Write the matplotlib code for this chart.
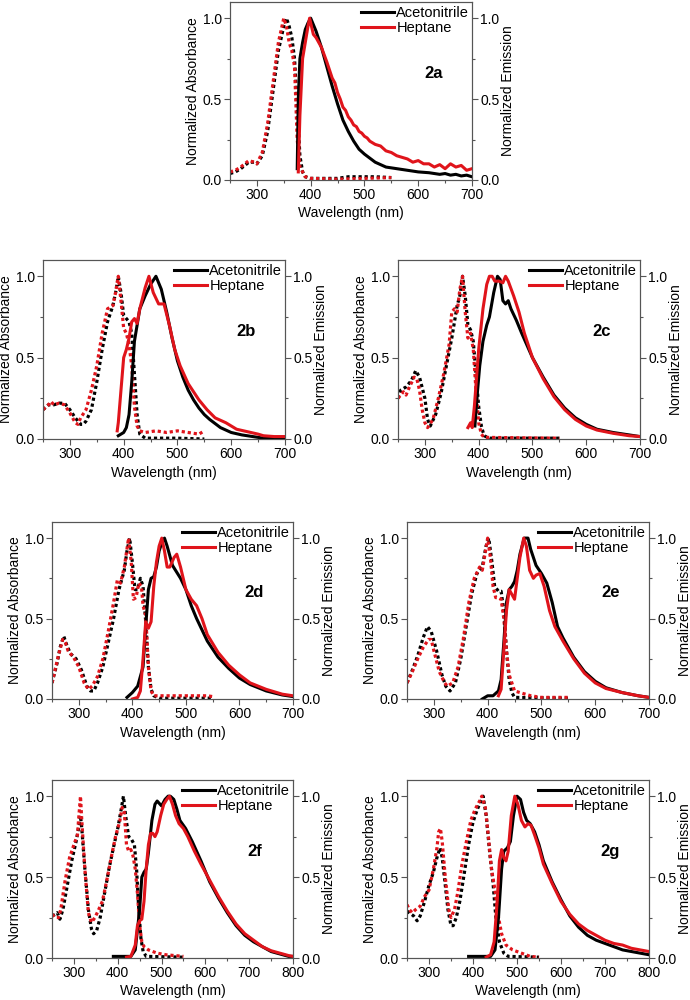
import matplotlib
matplotlib.use("Agg")
import matplotlib.pyplot as plt
from matplotlib.ticker import MultipleLocator

plt.rcParams['font.family'] = ['Liberation Sans', 'DejaVu Sans']

# ---------------- data ----------------
# Panel 2a
a_abs_acn_x = [250, 260, 270, 285, 295, 300, 310, 320, 330, 340, 350, 355, 360, 365, 370, 375, 380, 385, 390, 400, 430, 450, 470, 500, 520, 550]
a_abs_acn_y = [0.04, 0.05, 0.07, 0.11, 0.11, 0.10, 0.15, 0.30, 0.55, 0.80, 0.95, 1.0, 0.95, 0.88, 0.75, 0.45, 0.15, 0.05, 0.02, 0.01, 0.01, 0.01, 0.02, 0.02, 0.02, 0.015]
a_abs_hep_x = [250, 260, 270, 285, 295, 300, 310, 320, 330, 340, 350, 355, 360, 365, 370, 375, 380, 390, 400, 450, 500, 550]
a_abs_hep_y = [0.05, 0.06, 0.08, 0.12, 0.11, 0.10, 0.17, 0.35, 0.60, 0.85, 1.0, 0.95, 0.85, 0.80, 0.70, 0.25, 0.08, 0.02, 0.01, 0.005, 0.01, 0.015]
a_em_acn_x = [375, 377, 380, 385, 390, 395, 400, 410, 420, 430, 440, 450, 460, 470, 480, 490, 500, 520, 540, 560, 580, 600, 620, 640, 650, 660, 670, 680, 690, 700]
a_em_acn_y = [0.07, 0.5, 0.75, 0.85, 0.93, 0.97, 1.0, 0.92, 0.82, 0.70, 0.58, 0.47, 0.37, 0.30, 0.24, 0.19, 0.16, 0.11, 0.08, 0.07, 0.06, 0.05, 0.045, 0.035, 0.04, 0.03, 0.035, 0.025, 0.03, 0.02]
a_em_hep_x = [377, 380, 385, 390, 395, 398, 405, 410, 420, 430, 440, 445, 450, 455, 460, 465, 470, 475, 480, 485, 490, 495, 500, 505, 510, 520, 530, 540, 550, 560, 570, 580, 590, 600, 610, 620, 630, 640, 650, 660, 670, 680, 690, 700]
a_em_hep_y = [0.05, 0.4, 0.75, 0.85, 0.95, 1.0, 0.90, 0.88, 0.82, 0.73, 0.63, 0.60, 0.54, 0.50, 0.45, 0.43, 0.39, 0.37, 0.34, 0.33, 0.30, 0.29, 0.27, 0.26, 0.24, 0.22, 0.21, 0.18, 0.17, 0.15, 0.14, 0.13, 0.11, 0.12, 0.10, 0.10, 0.08, 0.095, 0.07, 0.10, 0.08, 0.09, 0.06, 0.07]

# Panel 2b
b_abs_acn_x = [250, 260, 270, 280, 290, 300, 310, 320, 325, 330, 340, 350, 360, 370, 380, 385, 390, 395, 400, 410, 415, 420, 425, 430, 440, 500, 550]
b_abs_acn_y = [0.18, 0.21, 0.21, 0.22, 0.22, 0.18, 0.13, 0.09, 0.09, 0.11, 0.18, 0.35, 0.55, 0.72, 0.82, 0.90, 1.0, 0.90, 0.76, 0.72, 0.65, 0.40, 0.15, 0.03, 0.005, 0.005, 0.0]
b_abs_hep_x = [250, 260, 265, 270, 280, 290, 300, 310, 315, 320, 330, 340, 350, 360, 370, 380, 385, 390, 395, 400, 405, 410, 415, 420, 425, 430, 440, 460, 480, 500, 520, 540, 550]
b_abs_hep_y = [0.18, 0.21, 0.23, 0.21, 0.22, 0.21, 0.16, 0.10, 0.09, 0.13, 0.18, 0.30, 0.45, 0.65, 0.80, 0.82, 0.90, 1.0, 0.85, 0.68, 0.65, 0.58, 0.45, 0.20, 0.08, 0.05, 0.04, 0.05, 0.04, 0.05, 0.04, 0.03, 0.05]
b_em_acn_x = [390, 400, 405, 410, 415, 420, 430, 440, 450, 460, 470, 480, 490, 500, 510, 520, 530, 540, 550, 560, 580, 600, 620, 640, 660, 700]
b_em_acn_y = [0.02, 0.04, 0.07, 0.15, 0.35, 0.60, 0.80, 0.88, 0.95, 1.0, 0.92, 0.78, 0.62, 0.48, 0.38, 0.30, 0.24, 0.19, 0.15, 0.12, 0.07, 0.04, 0.025, 0.015, 0.005, 0.005]
b_em_hep_x = [388, 390, 392, 395, 400, 405, 410, 415, 420, 425, 430, 440, 447, 455, 465, 475, 485, 495, 505, 520, 540, 555, 570, 590, 610, 630, 650, 660, 680, 700]
b_em_hep_y = [0.05, 0.10, 0.18, 0.30, 0.50, 0.55, 0.62, 0.72, 0.74, 0.71, 0.80, 0.93, 1.0, 0.90, 0.83, 0.83, 0.70, 0.55, 0.45, 0.34, 0.24, 0.18, 0.13, 0.10, 0.06, 0.045, 0.03, 0.02, 0.015, 0.015]

# Panel 2c
c_abs_acn_x = [250, 255, 265, 275, 283, 290, 300, 305, 310, 320, 330, 340, 350, 355, 360, 365, 370, 375, 380, 385, 390, 395, 400, 405, 410, 420, 550]
c_abs_acn_y = [0.25, 0.30, 0.32, 0.36, 0.42, 0.38, 0.25, 0.12, 0.08, 0.15, 0.28, 0.45, 0.62, 0.72, 0.82, 0.88, 1.0, 0.88, 0.70, 0.67, 0.60, 0.40, 0.20, 0.08, 0.02, 0.005, 0.005]
c_abs_hep_x = [250, 260, 265, 270, 280, 285, 290, 295, 300, 305, 315, 325, 335, 345, 350, 355, 360, 365, 370, 375, 380, 385, 390, 395, 400, 405, 410, 550]
c_abs_hep_y = [0.25, 0.29, 0.27, 0.31, 0.38, 0.37, 0.30, 0.18, 0.10, 0.07, 0.12, 0.25, 0.40, 0.58, 0.78, 0.80, 0.78, 0.92, 1.0, 0.78, 0.62, 0.65, 0.55, 0.30, 0.10, 0.03, 0.01, 0.005]
c_em_acn_x = [393, 398, 402, 408, 415, 420, 428, 435, 440, 445, 450, 455, 460, 470, 480, 500, 520, 540, 560, 580, 600, 620, 650, 680, 700]
c_em_acn_y = [0.08, 0.30, 0.45, 0.60, 0.70, 0.75, 0.90, 1.0, 0.98, 0.85, 0.83, 0.85, 0.80, 0.73, 0.65, 0.50, 0.38, 0.27, 0.19, 0.13, 0.09, 0.06, 0.04, 0.025, 0.015]
c_em_hep_x = [380, 385, 388, 392, 400, 408, 415, 420, 425, 430, 438, 445, 450, 455, 465, 475, 485, 500, 520, 540, 560, 580, 600, 620, 650, 680, 700]
c_em_hep_y = [0.07, 0.10, 0.07, 0.20, 0.55, 0.80, 0.95, 1.0, 1.0, 0.97, 0.97, 0.96, 1.0, 0.97, 0.88, 0.78, 0.65, 0.50, 0.37, 0.26, 0.18, 0.12, 0.08, 0.055, 0.035, 0.02, 0.015]

# Panel 2d
d_abs_acn_x = [250, 260, 265, 272, 278, 285, 295, 305, 315, 322, 328, 335, 345, 355, 365, 375, 385, 390, 395, 400, 405, 410, 415, 420, 425, 430, 435, 440, 450, 550]
d_abs_acn_y = [0.10, 0.23, 0.32, 0.39, 0.33, 0.28, 0.25, 0.18, 0.08, 0.05, 0.05, 0.10, 0.20, 0.35, 0.50, 0.68, 0.80, 0.92, 1.0, 0.85, 0.68, 0.68, 0.75, 0.70, 0.48, 0.20, 0.06, 0.02, 0.005, 0.005]
d_abs_hep_x = [250, 262, 270, 275, 280, 290, 300, 310, 318, 325, 335, 345, 355, 365, 372, 378, 385, 393, 398, 402, 407, 412, 417, 420, 425, 430, 435, 440, 460, 500, 520, 540, 550]
d_abs_hep_y = [0.10, 0.27, 0.37, 0.35, 0.30, 0.26, 0.20, 0.10, 0.06, 0.08, 0.14, 0.25, 0.42, 0.60, 0.74, 0.72, 0.82, 1.0, 0.85, 0.62, 0.63, 0.72, 0.70, 0.58, 0.52, 0.20, 0.05, 0.02, 0.02, 0.02, 0.02, 0.02, 0.015]
d_em_acn_x = [390, 400, 410, 420, 425, 430, 435, 440, 445, 450, 455, 460, 465, 475, 490, 500, 510, 520, 540, 560, 580, 600, 620, 650, 680, 700]
d_em_acn_y = [0.01, 0.04, 0.08, 0.20, 0.45, 0.68, 0.75, 0.76, 0.82, 0.92, 0.97, 1.0, 0.95, 0.83, 0.75, 0.68, 0.58, 0.50, 0.36, 0.26, 0.19, 0.13, 0.09, 0.05, 0.025, 0.015]
d_em_hep_x = [400, 405, 410, 415, 420, 425, 430, 435, 440, 445, 450, 455, 460, 465, 470, 478, 483, 490, 500, 510, 520, 530, 540, 560, 580, 600, 620, 650, 680, 700]
d_em_hep_y = [0.0, 0.005, 0.01, 0.05, 0.25, 0.48, 0.44, 0.48, 0.70, 0.85, 0.95, 1.0, 0.92, 0.82, 0.82, 0.88, 0.90, 0.82, 0.68, 0.62, 0.58, 0.50, 0.40, 0.29, 0.21, 0.15, 0.10, 0.06, 0.03, 0.02]

# Panel 2e
e_abs_acn_x = [250, 260, 270, 280, 288, 295, 305, 315, 322, 330, 340, 350, 360, 370, 380, 390, 397, 402, 408, 413, 420, 425, 430, 435, 440, 445, 450, 550]
e_abs_acn_y = [0.10, 0.18, 0.27, 0.38, 0.45, 0.42, 0.30, 0.15, 0.08, 0.05, 0.10, 0.25, 0.45, 0.65, 0.78, 0.82, 0.95, 1.0, 0.85, 0.70, 0.67, 0.67, 0.55, 0.30, 0.12, 0.04, 0.01, 0.005]
e_abs_hep_x = [250, 260, 270, 280, 290, 295, 300, 310, 320, 325, 335, 345, 355, 365, 375, 385, 390, 395, 400, 405, 410, 415, 420, 425, 430, 435, 440, 445, 450, 460, 480, 500, 550]
e_abs_hep_y = [0.10, 0.17, 0.25, 0.32, 0.37, 0.37, 0.30, 0.17, 0.10, 0.08, 0.10, 0.20, 0.38, 0.60, 0.75, 0.82, 0.80, 0.90, 1.0, 0.88, 0.70, 0.63, 0.63, 0.62, 0.50, 0.30, 0.15, 0.10, 0.05, 0.04, 0.02, 0.01, 0.01]
e_em_acn_x = [390, 400, 410, 420, 425, 430, 435, 440, 445, 450, 455, 460, 468, 475, 480, 490, 500, 510, 520, 530, 540, 560, 580, 600, 620, 650, 680, 700]
e_em_acn_y = [0.0, 0.02, 0.02, 0.05, 0.12, 0.35, 0.60, 0.68, 0.70, 0.73, 0.80, 0.90, 1.0, 1.0, 0.93, 0.83, 0.78, 0.72, 0.60, 0.45, 0.38, 0.26, 0.17, 0.11, 0.07, 0.04, 0.02, 0.01]
e_em_hep_x = [420, 425, 430, 435, 440, 445, 450, 455, 460, 467, 472, 478, 485, 490, 497, 505, 515, 525, 540, 560, 580, 600, 620, 650, 680, 700]
e_em_hep_y = [0.02, 0.06, 0.30, 0.55, 0.68, 0.65, 0.62, 0.75, 0.88, 1.0, 0.95, 0.80, 0.75, 0.77, 0.78, 0.70, 0.55, 0.45, 0.36, 0.25, 0.16, 0.10, 0.065, 0.04, 0.02, 0.01]

# Panel 2f
f_abs_acn_x = [250, 258, 262, 268, 275, 285, 295, 305, 312, 315, 318, 325, 333, 340, 345, 352, 360, 370, 380, 390, 400, 408, 413, 418, 425, 432, 438, 443, 448, 453, 458, 465, 550]
f_abs_acn_y = [0.26, 0.27, 0.28, 0.24, 0.30, 0.45, 0.60, 0.72, 0.82, 0.88, 0.80, 0.55, 0.30, 0.18, 0.15, 0.17, 0.25, 0.40, 0.55, 0.68, 0.80, 0.92, 1.0, 0.88, 0.75, 0.73, 0.70, 0.55, 0.30, 0.12, 0.04, 0.01, 0.005]
f_abs_hep_x = [250, 258, 265, 270, 280, 290, 300, 308, 312, 315, 318, 325, 333, 340, 348, 355, 365, 375, 385, 395, 405, 410, 415, 420, 425, 430, 435, 440, 445, 450, 455, 460, 470, 490, 510, 530, 550]
f_abs_hep_y = [0.27, 0.25, 0.25, 0.30, 0.48, 0.62, 0.70, 0.76, 0.90, 1.0, 0.85, 0.55, 0.28, 0.22, 0.25, 0.29, 0.35, 0.48, 0.62, 0.75, 0.85, 0.93, 0.90, 0.70, 0.66, 0.67, 0.63, 0.55, 0.40, 0.20, 0.10, 0.07, 0.05, 0.03, 0.02, 0.015, 0.01]
f_em_acn_x = [390, 410, 430, 440, 450, 455, 460, 465, 470, 478, 485, 490, 500, 508, 515, 520, 528, 535, 542, 555, 570, 590, 610, 630, 650, 670, 690, 710, 730, 750, 770, 790, 800]
f_em_acn_y = [0.01, 0.01, 0.01, 0.05, 0.30, 0.50, 0.53, 0.55, 0.65, 0.85, 0.95, 0.97, 0.94, 0.98, 1.0, 1.0, 0.98, 0.92, 0.85, 0.80, 0.72, 0.60, 0.47, 0.37, 0.28, 0.20, 0.14, 0.10, 0.07, 0.04, 0.025, 0.01, 0.01]
f_em_hep_x = [420, 430, 440, 445, 450, 455, 460, 465, 470, 475, 480, 485, 490, 498, 505, 512, 518, 525, 532, 540, 550, 560, 575, 590, 610, 630, 650, 670, 690, 710, 730, 750, 770, 790, 800]
f_em_hep_y = [0.005, 0.01, 0.08, 0.20, 0.23, 0.24, 0.35, 0.55, 0.70, 0.77, 0.77, 0.75, 0.78, 0.88, 0.95, 0.98, 1.0, 0.95, 0.88, 0.83, 0.80, 0.75, 0.66, 0.58, 0.48, 0.38, 0.29, 0.21, 0.15, 0.11, 0.07, 0.045, 0.03, 0.015, 0.01]

# Panel 2g
g_abs_acn_x = [250, 260, 265, 273, 280, 290, 300, 310, 318, 325, 330, 337, 343, 350, 355, 362, 370, 380, 390, 400, 410, 418, 423, 430, 438, 445, 452, 460, 470, 480, 550]
g_abs_acn_y = [0.29, 0.27, 0.26, 0.23, 0.26, 0.35, 0.45, 0.53, 0.62, 0.68, 0.62, 0.45, 0.30, 0.20, 0.20, 0.25, 0.35, 0.52, 0.70, 0.84, 0.92, 0.97, 1.0, 0.88, 0.65, 0.48, 0.25, 0.10, 0.03, 0.01, 0.005]
g_abs_hep_x = [250, 255, 262, 270, 280, 290, 300, 310, 318, 322, 326, 330, 337, 345, 350, 358, 365, 375, 385, 395, 405, 415, 420, 428, 435, 442, 450, 458, 465, 475, 490, 510, 530, 550]
g_abs_hep_y = [0.33, 0.30, 0.28, 0.30, 0.32, 0.38, 0.42, 0.55, 0.68, 0.78, 0.80, 0.72, 0.50, 0.30, 0.25, 0.30, 0.40, 0.58, 0.72, 0.85, 0.92, 0.97, 1.0, 0.93, 0.75, 0.55, 0.42, 0.25, 0.15, 0.08, 0.05, 0.03, 0.01, 0.005]
g_em_acn_x = [390, 420, 440, 450, 458, 465, 470, 478, 485, 492, 500, 508, 515, 522, 530, 540, 550, 560, 580, 600, 620, 640, 660, 680, 700, 720, 740, 760, 780, 800]
g_em_acn_y = [0.01, 0.01, 0.01, 0.05, 0.25, 0.55, 0.66, 0.68, 0.72, 0.88, 1.0, 0.98, 0.90, 0.85, 0.83, 0.78, 0.70, 0.60, 0.47, 0.36, 0.26, 0.19, 0.14, 0.11, 0.09, 0.07, 0.05, 0.04, 0.03, 0.02]
g_em_hep_x = [430, 440, 448, 455, 460, 465, 470, 475, 480, 487, 495, 502, 510, 518, 525, 532, 540, 550, 560, 580, 600, 620, 640, 660, 680, 700, 720, 740, 760, 780, 800]
g_em_hep_y = [0.005, 0.02, 0.10, 0.35, 0.60, 0.67, 0.62, 0.60, 0.66, 0.88, 1.0, 0.95, 0.85, 0.81, 0.83, 0.82, 0.76, 0.68, 0.58, 0.46, 0.35, 0.27, 0.21, 0.17, 0.14, 0.11, 0.09, 0.08, 0.06, 0.05, 0.04]

panel_labels = ["2a", "2b", "2c", "2d", "2e", "2f", "2g"]
legend_labels = ["Acetonitrile", "Heptane"]
xlabel = "Wavelength (nm)"
ylabel_left = "Normalized Absorbance"
ylabel_right = "Normalized Emission"
xmax_list = [700, 700, 700, 700, 700, 800, 800]

panels = [
    (a_abs_acn_x, a_abs_acn_y, a_abs_hep_x, a_abs_hep_y, a_em_acn_x, a_em_acn_y, a_em_hep_x, a_em_hep_y),
    (b_abs_acn_x, b_abs_acn_y, b_abs_hep_x, b_abs_hep_y, b_em_acn_x, b_em_acn_y, b_em_hep_x, b_em_hep_y),
    (c_abs_acn_x, c_abs_acn_y, c_abs_hep_x, c_abs_hep_y, c_em_acn_x, c_em_acn_y, c_em_hep_x, c_em_hep_y),
    (d_abs_acn_x, d_abs_acn_y, d_abs_hep_x, d_abs_hep_y, d_em_acn_x, d_em_acn_y, d_em_hep_x, d_em_hep_y),
    (e_abs_acn_x, e_abs_acn_y, e_abs_hep_x, e_abs_hep_y, e_em_acn_x, e_em_acn_y, e_em_hep_x, e_em_hep_y),
    (f_abs_acn_x, f_abs_acn_y, f_abs_hep_x, f_abs_hep_y, f_em_acn_x, f_em_acn_y, f_em_hep_x, f_em_hep_y),
    (g_abs_acn_x, g_abs_acn_y, g_abs_hep_x, g_abs_hep_y, g_em_acn_x, g_em_acn_y, g_em_hep_x, g_em_hep_y),
]

# axes rectangles in pixels (left, top, right, bottom)
W, H = 690, 1000
rects_px = [
    (230, 2, 472, 180),
    (43, 260, 285, 439),
    (398, 260, 640, 439),
    (52, 522, 293, 699),
    (407, 522, 649, 699),
    (52, 780, 293, 958),
    (407, 780, 649, 958),
]

BLACK = "#000000"
RED = "#e0141b"
SPINE = "#555555"
FS = 10

fig = plt.figure(figsize=(6.9, 10), dpi=100)

for i, (data, rp) in enumerate(zip(panels, rects_px)):
    l, t, r, b = rp
    ax = fig.add_axes([l / W, 1 - b / H, (r - l) / W, (b - t) / H])
    ax2 = ax.twinx()
    abx, aby, ahx, ahy, ebx, eby, ehx, ehy = data

    ax.plot(abx, aby, color=BLACK, lw=2.3, ls=(0, (1, 0.9)))
    ax.plot(ahx, ahy, color=RED, lw=2.3, ls=(0, (1, 0.9)))
    l1, = ax2.plot(ebx, eby, color=BLACK, lw=2.2)
    l2, = ax2.plot(ehx, ehy, color=RED, lw=2.2)

    for a in (ax, ax2):
        a.set_ylim(0, 1.1)
        a.set_xlim(250, xmax_list[i])
        a.yaxis.set_major_locator(MultipleLocator(0.5))
        a.yaxis.set_minor_locator(MultipleLocator(0.25))
        for s in a.spines.values():
            s.set_color(SPINE)
            s.set_linewidth(0.8)
        a.tick_params(which='both', direction='out', colors=SPINE, labelcolor='black', labelsize=FS, width=0.8, pad=2)
        a.tick_params(which='major', length=4)
        a.tick_params(which='minor', length=2.5)
    ax.xaxis.set_major_locator(MultipleLocator(100))
    ax.xaxis.set_minor_locator(MultipleLocator(50))
    ax.set_yticks([0, 0.5, 1.0])
    ax.set_yticklabels(["0.0", "0.5", "1.0"])
    ax2.set_yticks([0, 0.5, 1.0])
    ax2.set_yticklabels(["0.0", "0.5", "1.0"])
    ax.set_xlabel(xlabel, fontsize=FS, labelpad=3)
    ax.set_ylabel(ylabel_left, fontsize=FS, labelpad=2)
    ax2.set_ylabel(ylabel_right, fontsize=FS, labelpad=1)

    ax2.legend([l1, l2], legend_labels, loc='upper right', bbox_to_anchor=(0.995, 0.985),
               frameon=False, fontsize=10.5, handlelength=2.2, handletextpad=0.2,
               labelspacing=0.05, borderpad=0.1, borderaxespad=0.0)
    ax2.text(0.84, 0.6, panel_labels[i], transform=ax2.transAxes, fontsize=12,
             fontweight='bold', ha='center', va='center')

fig.savefig("out.png", dpi=100)
